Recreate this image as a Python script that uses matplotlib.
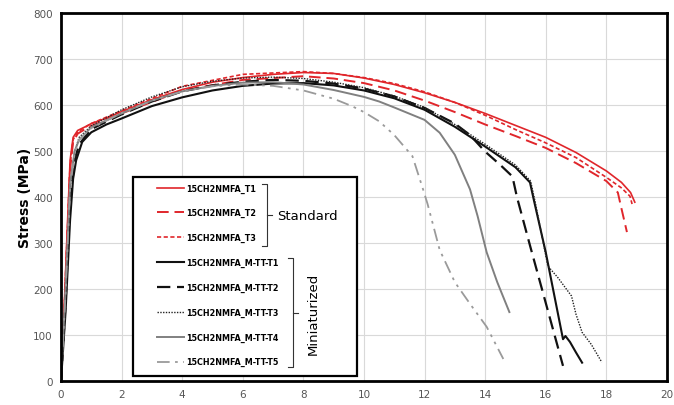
import matplotlib.pyplot as plt
from matplotlib.patches import Rectangle

# strain (%) / stress (MPa)
std1_x = [0, 0.1, 0.2, 0.3, 0.4, 0.55, 0.8, 1, 1.5, 2, 3, 4, 5, 6, 7, 8, 9, 10, 11, 12, 13, 14, 15, 16, 17, 18, 18.5, 18.8, 18.94]
std1_y = [0, 150, 320, 480, 530, 545, 553, 560, 572, 586, 612, 634, 650, 660, 667, 671, 669, 659, 645, 627, 606, 582, 556, 530, 497, 457, 432, 410, 389]
std2_x = [0, 0.1, 0.2, 0.3, 0.4, 0.55, 0.8, 1, 2, 4, 6, 8, 9, 10, 11, 12, 13, 14, 15, 16, 17, 18, 18.38, 18.5, 18.68]
std2_y = [0, 140, 300, 460, 520, 538, 548, 555, 582, 632, 655, 663, 658, 648, 632, 610, 585, 558, 533, 507, 474, 435, 410, 375, 324]
std3_x = [0, 0.1, 0.2, 0.3, 0.4, 0.55, 0.8, 1, 2, 4, 6, 8, 9, 10, 11, 12, 13, 14, 15, 16, 17, 18, 18.5, 18.78, 18.85]
std3_y = [0, 145, 310, 470, 525, 542, 552, 560, 588, 641, 667, 673, 669, 660, 647, 629, 606, 578, 547, 518, 486, 443, 420, 402, 385]

m1_x = [0, 0.15, 0.3, 0.4, 0.5, 0.7, 1, 1.5, 2, 3, 4, 5, 6, 7, 8, 9, 10, 11, 12, 13, 14, 15, 15.48, 15.6, 16, 16.57, 16.65, 16.8, 17, 17.2]
m1_y = [0, 150, 350, 440, 480, 520, 541, 558, 571, 598, 617, 632, 642, 647, 648, 643, 632, 615, 590, 553, 510, 465, 432, 396, 280, 91, 98, 85, 62, 40]
m2_x = [0, 0.15, 0.3, 0.45, 0.6, 1, 2, 3, 4, 5, 6, 7, 8, 9, 10, 11, 12, 13, 13.5, 14, 14.5, 14.9, 15.05, 15.5, 16, 16.57]
m2_y = [0, 170, 390, 480, 515, 548, 580, 608, 630, 643, 651, 655, 653, 647, 636, 619, 594, 560, 535, 499, 470, 445, 400, 290, 170, 33]
m3_x = [0, 0.15, 0.3, 0.45, 0.6, 1, 2, 3, 4, 5, 6, 7, 8, 9, 10, 11, 12, 13, 14, 15, 15.5, 15.65, 16.07, 16.4, 16.85, 17.0, 17.2, 17.5, 17.85]
m3_y = [0, 180, 420, 500, 530, 555, 590, 618, 640, 652, 659, 661, 658, 650, 638, 620, 595, 558, 515, 470, 435, 390, 250, 225, 185, 145, 106, 80, 41]
m4_x = [0, 0.15, 0.3, 0.45, 0.6, 1, 2, 3, 4, 5, 6, 7, 8, 9, 10, 10.5, 11, 12, 12.5, 13, 13.5, 13.75, 14.05, 14.4, 14.8]
m4_y = [0, 200, 430, 500, 525, 552, 582, 610, 630, 642, 649, 650, 645, 633, 618, 608, 595, 568, 540, 492, 417, 359, 280, 215, 150]
m5_x = [0, 0.15, 0.3, 0.45, 0.6, 1, 2, 3, 4, 5, 6, 7, 8, 9, 9.6, 10, 10.5, 11, 11.6, 11.95, 12.1, 12.5, 13, 13.5, 14.05, 14.6]
m5_y = [0, 190, 420, 495, 525, 550, 583, 610, 630, 641, 645, 642, 632, 614, 598, 585, 565, 535, 489, 417, 385, 285, 215, 168, 118, 48]

red = '#e0262b'
fig = plt.figure(figsize=(6.74, 4.06), dpi=100)
ax = fig.add_axes([0.0905, 0.059, 0.899, 0.906])

l1, = ax.plot(std1_x, std1_y, color=red, lw=1.2, label='15CH2NMFA_T1')
l2, = ax.plot(std2_x, std2_y, color=red, lw=1.4, ls=(0, (6, 3)), label='15CH2NMFA_T2')
l3, = ax.plot(std3_x, std3_y, color=red, lw=1.2, ls=(0, (2.5, 1.5)), label='15CH2NMFA_T3')
l4, = ax.plot(m1_x, m1_y, color='#111111', lw=1.5, label='15CH2NMFA_M-TT-T1')
l5, = ax.plot(m2_x, m2_y, color='#111111', lw=1.6, ls=(0, (6, 3)), label='15CH2NMFA_M-TT-T2')
l6, = ax.plot(m3_x, m3_y, color='#222222', lw=1.0, ls=(0, (1, 1)), label='15CH2NMFA_M-TT-T3')
l7, = ax.plot(m4_x, m4_y, color='#808080', lw=1.4, label='15CH2NMFA_M-TT-T4')
l8, = ax.plot(m5_x, m5_y, color='#9a9a9a', lw=1.3, ls=(0, (7, 3, 1.5, 3, 1.5, 3)), label='15CH2NMFA_M-TT-T5')

ax.set_xlim(0, 20)
ax.set_ylim(0, 800)
ax.set_xticks(range(0, 21, 2))
ax.set_yticks(range(0, 801, 100))
ax.grid(True, color='#d9d9d9', lw=0.8)
ax.set_axisbelow(True)
ax.tick_params(length=0, labelsize=7.5, labelcolor='#555555', pad=6)
for s in ax.spines.values():
    s.set_linewidth(2)
    s.set_color('black')
ax.set_ylabel('Stress (MPa)', fontsize=10, fontweight='bold', labelpad=1)

# legend box with brackets
ax.add_patch(Rectangle((0.119, 0.0136), 0.369, 0.54, transform=ax.transAxes,
                       fill=True, facecolor='white', edgecolor='black', lw=1.6, zorder=5))
leg = ax.legend(handles=[l1, l2, l3, l4, l5, l6, l7, l8], loc='upper left',
                bbox_to_anchor=(0.146, 0.557), frameon=False,
                handlelength=3.4, handletextpad=0.2, labelspacing=1.95,
                prop={'weight': 'bold', 'size': 5.8})
leg.set_zorder(6)

tr = ax.transAxes
def bracket(x, y0, y1, ym):
    ax.plot([x - 0.008, x, x, x - 0.008], [y0, y0, y1, y1], color='#333333', lw=0.8, transform=tr, zorder=7)
    ax.plot([x, x + 0.008], [ym, ym], color='#333333', lw=0.8, transform=tr, zorder=7)

bracket(0.340, 0.535, 0.367, 0.451)
bracket(0.383, 0.334, 0.038, 0.186)
ax.text(0.357, 0.451, 'Standard', transform=tr, fontsize=9.5, va='center', ha='left', zorder=7)
ax.text(0.416, 0.186, 'Miniaturized', transform=tr, fontsize=9.5, va='center', ha='center',
        rotation=90, zorder=7)

fig.savefig('out.png', dpi=100)
